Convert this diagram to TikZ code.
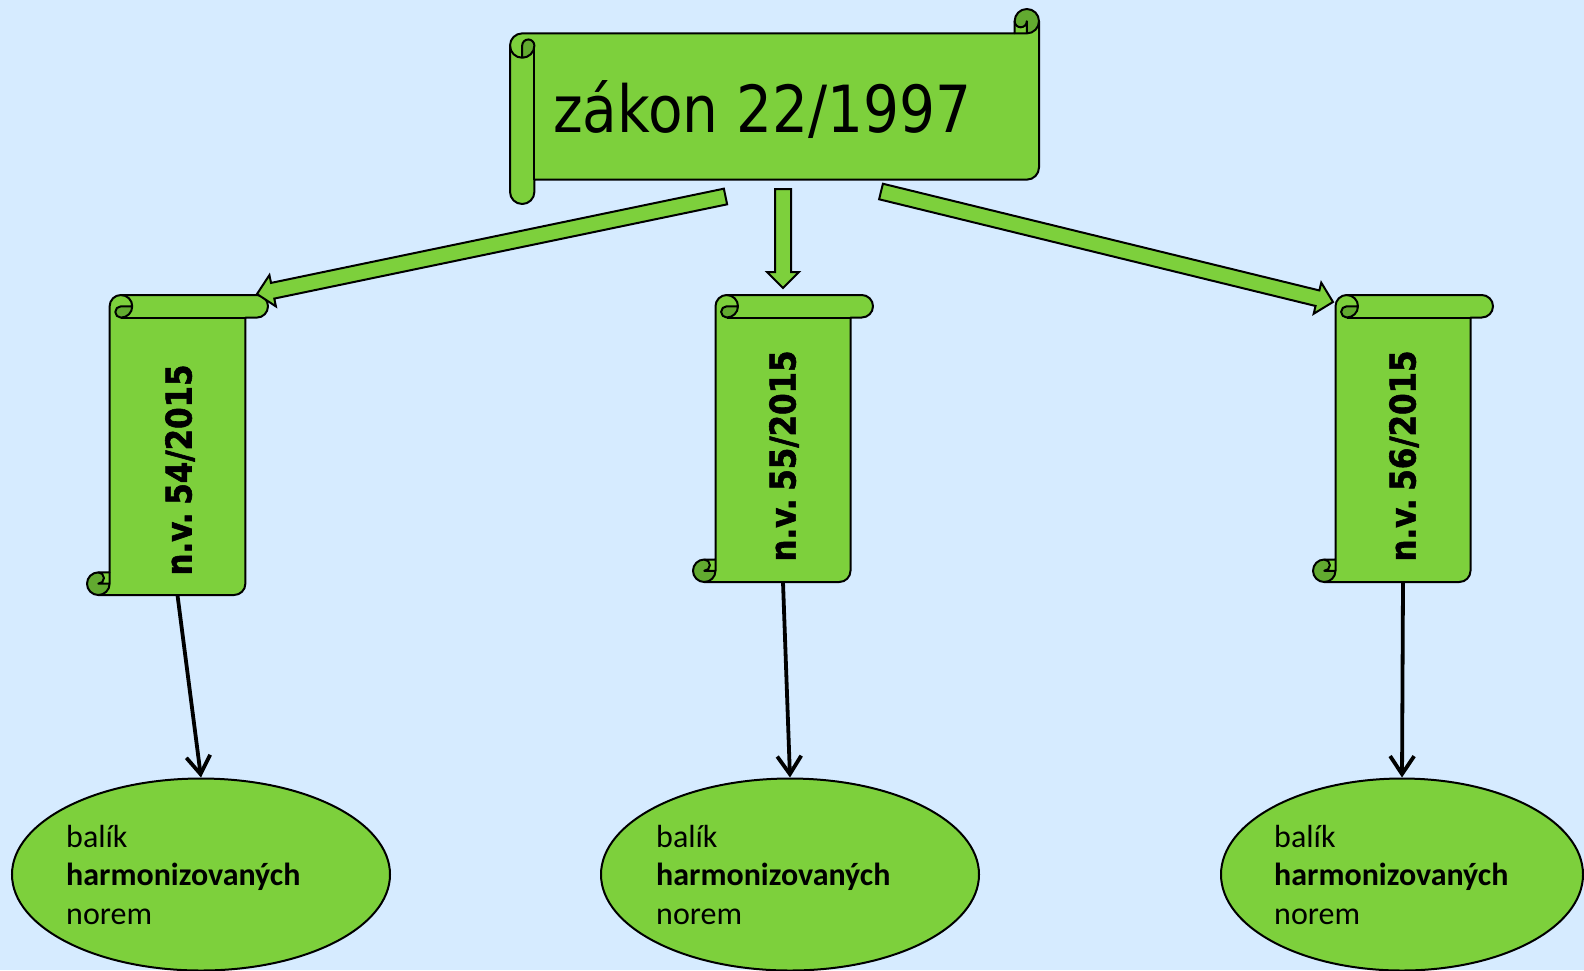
\documentclass[tikz,border=0pt]{standalone}
\usepackage{fontspec}
\usetikzlibrary{calc,shapes.geometric,arrows.meta}
\newfontfamily\tahfont{DejaVu Sans}[FakeStretch=0.87,BoldFeatures={FakeBold=1.6}]
\newfontfamily\calfont{Carlito}
\definecolor{bgblue}{RGB}{214,235,255}
\definecolor{leaf}{RGB}{125,208,60}
\definecolor{leafdark}{RGB}{98,170,48}

\tikzset{
  scrollline/.style={draw=black,line width=2pt,line join=round},
  fatline/.style={fill=leaf,draw=black,line width=2pt,line join=miter},
  thinarrow/.style={line width=3.8pt,-{Straight Barb[length=18pt,width=24pt]}},
  ell/.style={ellipse,fill=leaf,draw=black,line width=2pt,inner sep=0pt},
  bodybox/.style={rectangle,inner sep=0pt},
  vtext/.style={rotate=90,inner sep=0pt,font=\tahfont\bfseries\fontsize{35.5}{41}\selectfont},
  etext/.style={anchor=base west,inner sep=0pt,font=\calfont\fontsize{32}{38.5}\selectfont},
}

% scroll drawn in local coordinates (0,0)--(#1,#2), y pointing down
\newcommand\scrollshape[2]{%
  \pgfmathsetmacro\skW{#1}%
  \pgfmathsetmacro\skH{#2}%
  \pgfmathsetmacro\skC{0.125*min(#1,#2)}%
  \pgfmathsetmacro\skP{\skC/2}%
  \pgfmathsetmacro\skQ{\skC/4}%
  \pgfmathsetmacro\skXa{\skW-\skC}%
  \pgfmathsetmacro\skXb{\skW-\skP}%
  \pgfmathsetmacro\skYa{1.5*\skC}%
  \pgfmathsetmacro\skYb{2*\skC}%
  \pgfmathsetmacro\skYc{\skH-1.5*\skC}%
  \pgfmathsetmacro\skYd{\skH-\skC}%
  \pgfmathsetmacro\skYe{\skH-\skP}%
  % paper
  \fill[leaf] (\skW,\skP) arc[start angle=0,delta angle=90,radius=\skP]
    -- (\skXb,\skP) arc[start angle=0,delta angle=180,radius=\skQ]
    -- (\skXa,\skC) -- (\skP,\skC) arc[start angle=270,delta angle=-90,radius=\skP]
    -- (0,\skYe) arc[start angle=180,delta angle=-180,radius=\skP]
    -- (\skC,\skYd) -- (\skXb,\skYd) arc[start angle=90,delta angle=-90,radius=\skP]
    -- cycle;
  % shaded curls
  \fill[leafdark] (\skP,\skYb) arc[start angle=90,delta angle=-90,radius=\skP]
    arc[start angle=0,delta angle=-180,radius=\skQ] -- cycle;
  \fill[leafdark] (\skXb,\skC) arc[start angle=90,delta angle=-270,radius=\skP]
    arc[start angle=180,delta angle=-180,radius=\skQ] -- cycle;
  % outlines
  \draw[scrollline] (0,\skYa) arc[start angle=180,delta angle=90,radius=\skP]
    -- (\skXa,\skC) -- (\skXa,\skP) arc[start angle=180,delta angle=180,radius=\skP]
    -- (\skW,\skYc) arc[start angle=0,delta angle=90,radius=\skP]
    -- (\skC,\skYd) -- (\skC,\skYe) arc[start angle=0,delta angle=180,radius=\skP]
    -- cycle;
  \draw[scrollline] (\skXa,\skC) -- (\skXb,\skC) arc[start angle=90,delta angle=-90,radius=\skP];
  \draw[scrollline] (\skXb,\skC) -- (\skXb,\skP) arc[start angle=0,delta angle=180,radius=\skQ];
  \draw[scrollline] (\skP,\skYb) -- (\skP,\skYa) arc[start angle=180,delta angle=180,radius=\skQ]
    arc[start angle=0,delta angle=180,radius=\skP];
  \draw[scrollline] (\skC,\skYa) -- (\skC,\skYd);
}

% wide block arrow: #1 name prefix, #2 tail, #3 tip
\newcommand\fatarrow[3]{%
  \coordinate (#1h) at ($(#3)!16pt!(#2)$);
  \path[fatline] ($(#2)!8pt!90:(#3)$) -- ($(#1h)!8pt!90:(#3)$) -- ($(#1h)!16pt!90:(#3)$)
    -- (#3) -- ($(#1h)!16pt!-90:(#3)$) -- ($(#1h)!8pt!-90:(#3)$)
    -- ($(#2)!8pt!-90:(#3)$) -- cycle;
}

\newcommand\nvlabel[1]{n.v.\hspace{0.22em}#1}

\begin{document}
\begin{tikzpicture}[x=1pt,y=-1pt]
\fill[bgblue] (0,0) rectangle (1584,970);
\useasboundingbox (0,0) rectangle (1584,970);

% main horizontal scroll
\begin{scope}[shift={(510,9)}]
  \scrollshape{529}{195}
\end{scope}
\node[anchor=base west,inner sep=0pt,font=\tahfont\fontsize{65}{72}\selectfont] (law) at (553,132) {zákon 22/1997};

% vertical scrolls
\begin{scope}[cm={0,-1,-1,0,(87,295)}]
  \scrollshape{300}{181}
\end{scope}
\begin{scope}[cm={0,-1,-1,0,(693,295)}]
  \scrollshape{287}{180}
\end{scope}
\begin{scope}[cm={0,-1,-1,0,(1313,295)}]
  \scrollshape{287}{180}
\end{scope}

\node[bodybox,minimum width=135.8pt,minimum height=277.4pt] (nv1) at (177.5,456.3) {};
\node[bodybox,minimum width=135pt,minimum height=264.5pt] (nv2) at (783,449.75) {};
\node[bodybox,minimum width=135pt,minimum height=264.5pt] (nv3) at (1403,449.75) {};

\node[vtext] (t1) at (180,470) {\nvlabel{54/2015}};
\node[vtext] (t2) at (784,456) {\nvlabel{55/2015}};
\node[vtext] (t3) at (1404,456) {\nvlabel{56/2015}};

% block arrows from the law to the regulations
\coordinate (a1s) at (725.5,196.5);
\coordinate (a1e) at (257,294);
\coordinate (a2s) at (783,189);
\coordinate (a2e) at (783,288);
\coordinate (a3s) at (881,191.5);
\coordinate (a3e) at (1333,302);
\fatarrow{a1}{a1s}{a1e}
\fatarrow{a2}{a2s}{a2e}
\fatarrow{a3}{a3s}{a3e}

% standards packages
\node[ell,minimum width=378pt,minimum height=192pt] (e1) at (201,874.5) {};
\node[ell,minimum width=378pt,minimum height=192pt] (e2) at (790,874.5) {};
\node[ell,minimum width=362pt,minimum height=192pt] (e3) at (1402,874.5) {};

\node[etext] (b1) at (66,847) {\begin{tabular}[t]{@{}l@{}}balík\\\textbf{harmonizovaných}\\norem\end{tabular}};
\node[etext] (b2) at (656,847) {\begin{tabular}[t]{@{}l@{}}balík\\\textbf{harmonizovaných}\\norem\end{tabular}};
\node[etext] (b3) at (1274,847) {\begin{tabular}[t]{@{}l@{}}balík\\\textbf{harmonizovaných}\\norem\end{tabular}};

\draw[thinarrow] (nv1.south) -- (e1.north);
\draw[thinarrow] (nv2.south) -- (e2.north);
\draw[thinarrow] (nv3.south) -- (e3.north);
\end{tikzpicture}
\end{document}
